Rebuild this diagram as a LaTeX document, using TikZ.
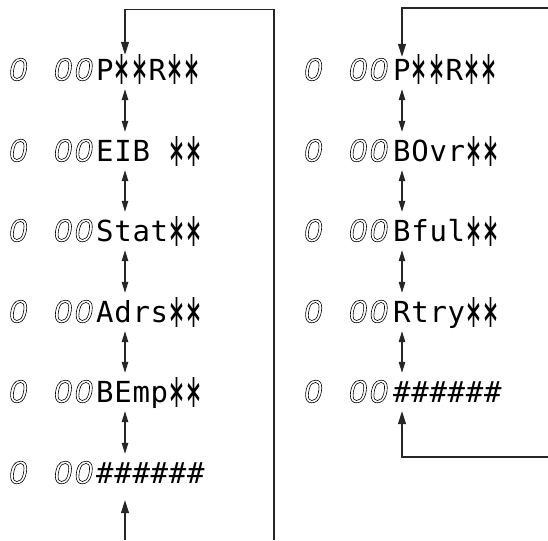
\documentclass[tikz,border=0pt]{standalone}
\usepackage{fontspec}
\usetikzlibrary{arrows.meta}
\newfontfamily\lcdfont[LetterSpace=2.5]{DejaVu Sans Mono}
\newfontfamily\starfont{DejaVu Sans}
\newfontfamily\segfont{Liberation Sans}
\newcommand\lcdstar{\makebox[17.5pt]{\raisebox{-4.5pt}{\resizebox*{17pt}{30pt}{\starfont ∗}}}}
\newcommand\outl[1]{\special{pdf:literal direct 1 Tr 0.6 w}#1\special{pdf:literal direct 0 Tr}}
\tikzset{
  lcd/.style={font=\lcdfont\fontsize{29pt}{29pt}\selectfont, anchor=west, inner sep=0pt,
    text height=21pt, text depth=0pt, minimum height=38pt},
  seg/.style={font=\segfont\itshape\fontsize{32pt}{32pt}\selectfont, anchor=west, inner sep=0pt,
    text height=21pt, text depth=0pt},
  ln/.style={draw=black!85, line width=1.2pt},
  dbl/.style={ln, {Triangle[length=11pt,width=6.5pt]}-{Triangle[length=11pt,width=6.5pt]}},
  arr/.style={ln, -{Triangle[length=13pt,width=8pt]}}
}
\begin{document}
\begin{tikzpicture}[x=1pt,y=-1pt]
\useasboundingbox (0,0) rectangle (548,540);
% left column
\foreach \n/\y in {1/70,2/151,3/231,4/312,5/392,6/473}{
  \node[seg] (LD\n) at (9,\y) {\outl{0\kern27pt 0\kern3pt 0}};
}
\node[lcd] (L1) at (96,70) {P\lcdstar\lcdstar R\lcdstar\lcdstar};
\node[lcd] (L2) at (96,151) {EIB \lcdstar\lcdstar};
\node[lcd] (L3) at (96,231) {Stat\lcdstar\lcdstar};
\node[lcd] (L4) at (96,312) {Adrs\lcdstar\lcdstar};
\node[lcd] (L5) at (96,392) {BEmp\lcdstar\lcdstar};
\node[lcd] (L6) at (96,473) {\#\#\#\#\#\#};
% right column
\foreach \n/\y in {1/70,2/151,3/231,4/312,5/392}{
  \node[seg] (RD\n) at (304,\y) {\outl{0\kern27pt 0\kern3pt 0}};
}
\node[lcd] (R1) at (393,70) {P\lcdstar\lcdstar R\lcdstar\lcdstar};
\node[lcd] (R2) at (393,151) {BOvr\lcdstar\lcdstar};
\node[lcd] (R3) at (393,231) {Bful\lcdstar\lcdstar};
\node[lcd] (R4) at (393,312) {Rtry\lcdstar\lcdstar};
\node[lcd] (R5) at (393,392) {\#\#\#\#\#\#};
% x positions of connectors
\coordinate (lx) at (125,0);
\coordinate (rx) at (402,0);
\coordinate (ltop) at (274,9.5);
\coordinate (lbot) at (274,540);
\coordinate (lin) at (125,540);
\coordinate (rtop) at (548,8);
\coordinate (rbot) at (548,457);
% left loop
\draw[arr] (lbot) -- (ltop) -| ([yshift=-4pt]L1.north -| lx);
\draw[arr, shorten >=8pt] (lin) -- (L6.south -| lx);
\foreach \a/\b in {1/2,2/3,3/4,4/5,5/6}{
  \draw[dbl] (L\a.south -| lx) -- (L\b.north -| lx);
}
% right loop
\draw[arr] (rtop) -| ([yshift=-6pt]R1.north -| rx);
\draw[arr] (rbot) -| (R5.south -| rx);
\foreach \a/\b in {1/2,2/3,3/4,4/5}{
  \draw[dbl] (R\a.south -| rx) -- (R\b.north -| rx);
}
\end{tikzpicture}
\end{document}
